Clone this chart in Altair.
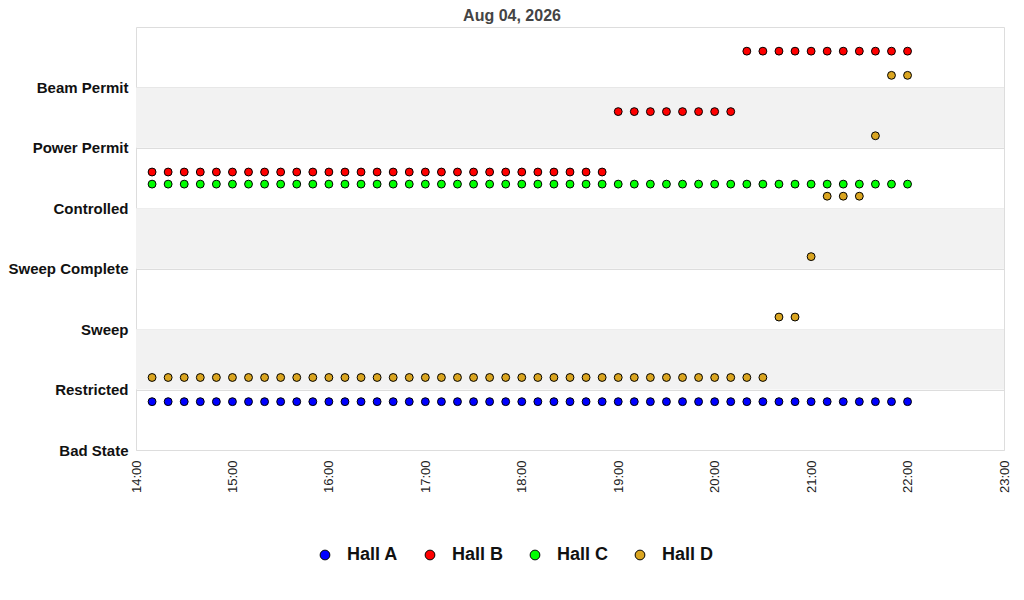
import altair as alt
import pandas as pd

# ---- data ----
state_names = ["Bad State", "Restricted", "Sweep", "Sweep Complete",
               "Controlled", "Power Permit", "Beam Permit"]
halls = ["Hall A", "Hall B", "Hall C", "Hall D"]
hall_colors = ["#0000ff", "#ff0000", "#00ff00", "#daa520"]

# sample times: every 10 minutes from 14:10 to 22:00 (48 samples)
times = pd.date_range("2026-08-04 14:10", "2026-08-04 22:00", freq="10min")

hall_a = ["Bad State"] * 48
hall_b = ["Controlled"] * 29 + ["Power Permit"] * 8 + ["Beam Permit"] * 11
hall_c = ["Controlled"] * 48
hall_d = (["Restricted"] * 39 + ["Sweep"] * 2 + ["Sweep Complete"] * 1
          + ["Controlled"] * 3 + ["Power Permit"] * 1 + ["Beam Permit"] * 2)

band_lo = [1, 3, 5]
band_hi = [2, 4, 6]

# ---- layout / style (not data) ----
hall_offset = {"Hall A": 0.8, "Hall B": 0.6, "Hall C": 0.4, "Hall D": 0.2}
W, H = 868, 423
FONT = "Liberation Sans"

rows = []
for hall, states in zip(halls, [hall_a, hall_b, hall_c, hall_d]):
    for t, s in zip(times, states):
        rows.append({"time": t.strftime("%Y-%m-%dT%H:%M:%S"), "hall": hall,
                     "state": s, "idx": state_names.index(s)})
df = pd.DataFrame(rows)
df_bands = pd.DataFrame({"lo": band_lo, "hi": band_hi})

offset_expr = "datum.idx + ({'Hall A': %s, 'Hall B': %s, 'Hall C': %s, 'Hall D': %s})[datum.hall]" % (
    hall_offset["Hall A"], hall_offset["Hall B"], hall_offset["Hall C"], hall_offset["Hall D"])

label_array = "[" + ",".join("'%s'" % s for s in state_names) + "]"

yscale = alt.Scale(domain=[0, 7], nice=False, zero=False)
xscale = alt.Scale(domain=[alt.DateTime(year=2026, month=8, date=4, hours=14),
                           alt.DateTime(year=2026, month=8, date=4, hours=23)])

yaxis = alt.Axis(values=list(range(0, 7)),
                 labelExpr=label_array + "[datum.value]",
                 labelFont=FONT, labelFontSize=15, labelFontWeight="bold",
                 labelColor="#111111", labelPadding=8,
                 grid=True, gridColor="#dddddd", domain=False, ticks=False)

bands = alt.Chart(df_bands).mark_rect(color="#f2f2f2").encode(
    y=alt.Y("lo:Q", scale=yscale, title=None, axis=yaxis),
    y2="hi:Q",
    x=alt.value(0),
    x2=alt.value(W),
)

points = alt.Chart(df).transform_calculate(
    level=offset_expr
).mark_point(filled=True, shape="circle", size=62, stroke="black",
             strokeWidth=1, opacity=1).encode(
    x=alt.X("time:T", scale=xscale, title=None,
            axis=alt.Axis(values=[alt.DateTime(year=2026, month=8, date=4, hours=h)
                                  for h in range(14, 24)],
                          format="%H:%M", labelAngle=270, labelFontSize=13,
                          labelFont=FONT, labelColor="#222222", grid=False,
                          domain=False, ticks=False, labelPadding=10)),
    y=alt.Y("level:Q", scale=yscale, title=None, axis=yaxis),
    color=alt.Color("hall:N", scale=alt.Scale(domain=halls, range=hall_colors),
                    title=None,
                    legend=alt.Legend(orient="none", legendX=180, legendY=519,
                                      direction="horizontal", columns=4,
                                      symbolType="circle", symbolSize=95,
                                      symbolStrokeColor="black", symbolStrokeWidth=1,
                                      labelFontSize=18, labelFontWeight="bold",
                                      labelFont=FONT, labelColor="#111111",
                                      labelOffset=13, columnPadding=22)),
)

chart = alt.layer(bands, points).properties(
    width=W, height=H,
    title=alt.TitleParams("Aug 04, 2026", fontSize=16, fontWeight="bold",
                          font=FONT, color="#444444", anchor="middle", dx=-58,
                          offset=3),
    autosize=alt.AutoSizeParams(type="none"),
    padding={"left": 128, "top": 19, "right": 12, "bottom": 140},
).configure_view(stroke="#dddddd", strokeWidth=1)

chart.save("out.html", embed_options={"renderer": "svg", "actions": False})
